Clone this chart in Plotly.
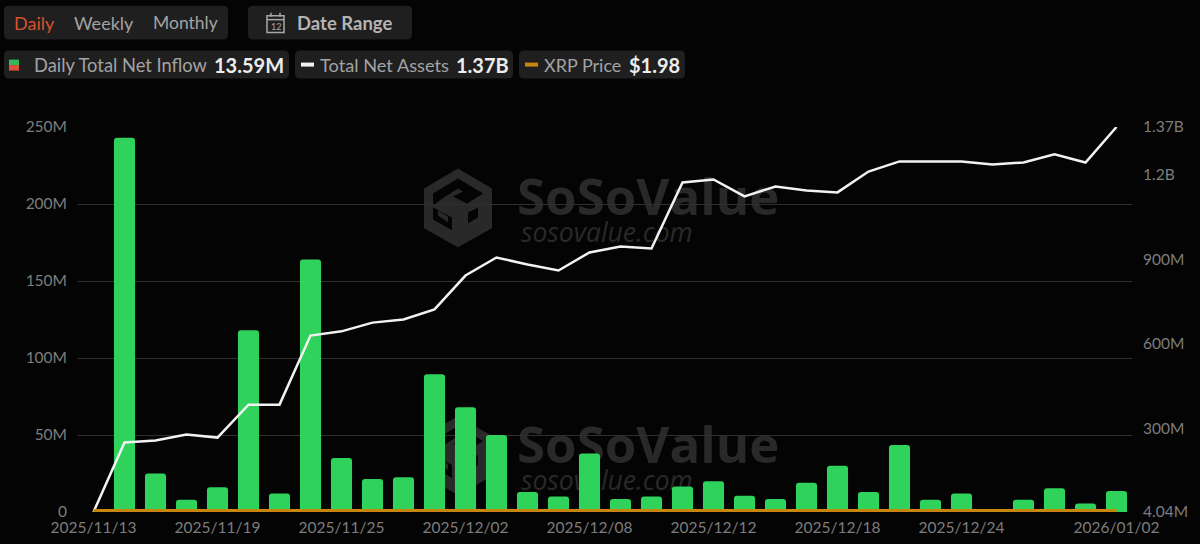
import plotly.graph_objects as go

dates = ["2025/11/13", "2025/11/14", "2025/11/17", "2025/11/18", "2025/11/19", "2025/11/20",
         "2025/11/21", "2025/11/24", "2025/11/25", "2025/11/26", "2025/11/28", "2025/12/01",
         "2025/12/02", "2025/12/03", "2025/12/04", "2025/12/05", "2025/12/08", "2025/12/09",
         "2025/12/10", "2025/12/11", "2025/12/12", "2025/12/15", "2025/12/16", "2025/12/17",
         "2025/12/18", "2025/12/19", "2025/12/22", "2025/12/23", "2025/12/24", "2025/12/26",
         "2025/12/29", "2025/12/30", "2025/12/31", "2026/01/02"]
tick_dates = ["2025/11/13", "2025/11/19", "2025/11/25", "2025/12/02", "2025/12/08",
              "2025/12/12", "2025/12/18", "2025/12/24", "2026/01/02"]

# million USD
net_inflow = [0, 243, 25, 8, 16, 118, 12, 164, 35, 21.5, 22.5, 89.5, 68, 50, 13, 10, 38, 8.5,
              10, 16.5, 20, 10.5, 8.5, 19, 30, 13, 43.5, 8, 12, 0, 8, 15.5, 5.5, 13.59]
net_assets = [4.04, 251, 258, 279, 268, 385, 385, 630, 645, 676, 687, 723, 843, 907, 882, 861,
              925, 946, 939, 1173, 1184, 1124, 1159, 1145, 1138, 1212, 1248, 1248, 1248, 1237,
              1244, 1273, 1244, 1370]
# USD, only the last price can be read, the line is flat on this scale
xrp_price = [1.98] * len(dates)

left_ticks = [0, 50, 100, 150, 200, 250]
left_labels = ["0", "50M", "100M", "150M", "200M", "250M"]
right_ticks = [4.04, 300, 600, 900, 1200, 1370]
right_labels = ["4.04M", "300M", "600M", "900M", "1.2B", "1.37B"]

FONT = "Lato"
BG = "#040404"
PILL = "#1f1f1f"
GREY = "#7d7d7d"
LABEL = "#a3a3a3"
GREEN = "#2fd25a"
ORANGE = "#c8860f"
MARK = "#292929"

L, R, T, B = 78, 1132, 126.5, 512


def fx(x):
    return (x - L) / (R - L)


def fy(y):
    return (B - y) / (B - T)


def poly(points, fill):
    return dict(type="path", xref="paper", yref="paper", layer="below", line_width=0, fillcolor=fill,
                path="M " + " L ".join(f"{fx(x)} {fy(y)}" for x, y in points) + " Z")


def pill(x0, y0, x1, y1, r=5):
    return dict(type="path", xref="paper", yref="paper", line_width=0, fillcolor=PILL,
                path=f"M {fx(x0 + r)} {fy(y0)} L {fx(x1 - r)} {fy(y0)} "
                     f"Q {fx(x1)} {fy(y0)} {fx(x1)} {fy(y0 + r)} L {fx(x1)} {fy(y1 - r)} "
                     f"Q {fx(x1)} {fy(y1)} {fx(x1 - r)} {fy(y1)} L {fx(x0 + r)} {fy(y1)} "
                     f"Q {fx(x0)} {fy(y1)} {fx(x0)} {fy(y1 - r)} L {fx(x0)} {fy(y0 + r)} "
                     f"Q {fx(x0)} {fy(y0)} {fx(x0 + r)} {fy(y0)} Z")


def rect(x0, y0, x1, y1, fill, line=None):
    return dict(type="rect", xref="paper", yref="paper", x0=fx(x0), x1=fx(x1), y0=fy(y0), y1=fy(y1),
                fillcolor=fill, line=dict(color=line or fill, width=1.5 if line else 0))


def seg(x0, y0, x1, y1, color, width):
    return dict(type="line", xref="paper", yref="paper", x0=fx(x0), x1=fx(x1), y0=fy(y0), y1=fy(y1),
                line=dict(color=color, width=width))


def label(x, y, text, size, color, bold=False, anchor="left"):
    if bold:
        text = f"<b>{text}</b>"
    return dict(xref="paper", yref="paper", x=fx(x), y=fy(y), text=text, showarrow=False,
                xanchor=anchor, yanchor="middle", font=dict(family=FONT, size=size, color=color))


def mark_text(x0, y0, x1, y1, text, size):
    # a shape label, so the watermark stays behind the bars
    return dict(type="rect", xref="paper", yref="paper", layer="below", x0=fx(x0), x1=fx(x1),
                y0=fy(y0), y1=fy(y1), line_width=0, fillcolor="rgba(0,0,0,0)",
                label=dict(text=text, textposition="middle left", padding=0,
                           font=dict(family="Open Sans", size=size, color=MARK)))


fig = go.Figure()
fig.add_trace(go.Bar(x=dates, y=net_inflow, marker=dict(color=GREEN, line_width=0), width=0.68))
# price on its own hidden axis, in plain dollars
fig.add_trace(go.Scatter(x=dates, y=xrp_price, mode="lines", yaxis="y3",
                         line=dict(color=ORANGE, width=3), cliponaxis=False))
fig.add_trace(go.Scatter(x=dates, y=net_assets, mode="lines", yaxis="y2",
                         line=dict(color="#f2f2f2", width=2.5), cliponaxis=False))

shapes = [pill(4, 5, 228, 39), pill(248, 5, 412, 39), pill(4, 50, 289, 78),
          pill(295, 50, 513, 78), pill(519, 50, 685, 78),
          rect(9, 59, 19, 64.5, "#35b85a"), rect(9, 64.5, 19, 70, "#e0503c"),
          seg(301, 64, 314, 64, "#f2f2f2", 4), seg(525, 64, 538, 64, ORANGE, 4),
          # calendar icon
          rect(267, 15, 284, 32, "rgba(0,0,0,0)", "#a8a8a8"),
          seg(267, 19, 284, 19, "#a8a8a8", 1.5),
          seg(271, 12, 271, 16, "#a8a8a8", 1.5),
          seg(280, 12, 280, 16, "#a8a8a8", 1.5)]

annotations = [label(12, 22, "Daily", 18, "#d9512c"), label(72, 22, "Weekly", 18, LABEL),
               label(151, 22, "Monthly", 17.5, LABEL), label(295, 22, "Date Range", 18.5, "#b4b4b4", bold=True),
               label(275.5, 25.5, "12", 9, "#a8a8a8", anchor="center"),
               label(32, 64, "Daily Total Net Inflow", 18.3, LABEL), label(212, 64, "13.59M", 20, "#ececec", bold=True),
               label(318, 64, "Total Net Assets", 18.2, LABEL), label(454, 64, "1.37B", 20, "#ececec", bold=True),
               label(542, 64, "XRP Price", 18, LABEL), label(627, 64, "$1.98", 20, "#ececec", bold=True)]

# watermarks
for dy in (0, 248):
    shapes.append(poly([(458, 168 + dy), (492, 188 + dy), (492, 228 + dy), (458, 247 + dy),
                        (424, 228 + dy), (424, 188 + dy)], MARK))
    shapes.append(poly([(433, 193 + dy), (458, 178 + dy), (483, 193 + dy), (467, 203 + dy),
                        (453, 196 + dy), (463, 191 + dy), (458, 188 + dy), (441, 199 + dy),
                        (433, 205 + dy)], BG))
    shapes.append(poly([(433, 207 + dy), (452, 217 + dy), (452, 230 + dy), (433, 219 + dy)], BG))
    shapes.append(poly([(438, 210 + dy), (448, 216 + dy), (448, 222 + dy), (438, 215 + dy)], MARK))
    shapes.append(poly([(468, 212 + dy), (478, 207 + dy), (478, 217 + dy), (468, 223 + dy)], BG))
    shapes.append(mark_text(514, 172 + dy, 790, 226 + dy, "<b>SoSoValue</b>", 51))
    shapes.append(mark_text(518, 220 + dy, 790, 247 + dy, "<i>sosovalue.com</i>", 26.5))

fig.update_layout(
    width=1200, height=544, autosize=False, showlegend=False,
    paper_bgcolor=BG, plot_bgcolor="rgba(0,0,0,0)",
    margin=dict(l=L, r=1200 - R, t=T, b=544 - B),
    barcornerradius=3,
    font=dict(family=FONT, size=15.5, color=GREY),
    shapes=shapes, annotations=annotations,
    xaxis=dict(type="category", categoryorder="array", categoryarray=dates, range=[-0.5, 33.5],
               tickmode="array", tickvals=tick_dates, ticktext=tick_dates, tickangle=0, automargin=False,
               showgrid=False, zeroline=False, showline=False, ticks="", ticklabelstandoff=4),
    yaxis=dict(range=[0, 250], tickmode="array", tickvals=left_ticks, ticktext=left_labels, automargin=False,
               gridcolor="#2f2f2f", gridwidth=1, zeroline=False, showline=False, ticklabelstandoff=10),
    yaxis2=dict(overlaying="y", side="right", range=[4.04, 1370], tickmode="array", automargin=False,
                tickvals=right_ticks, ticktext=right_labels, showgrid=False, zeroline=False,
                showline=False, ticklabelstandoff=10),
    yaxis3=dict(overlaying="y", range=[0, 500], visible=False),
)

fig.write_html("out.html", config=dict(displayModeBar=False),
               post_script="document.body.style.margin = '0'; document.body.style.background = '#040404';")
